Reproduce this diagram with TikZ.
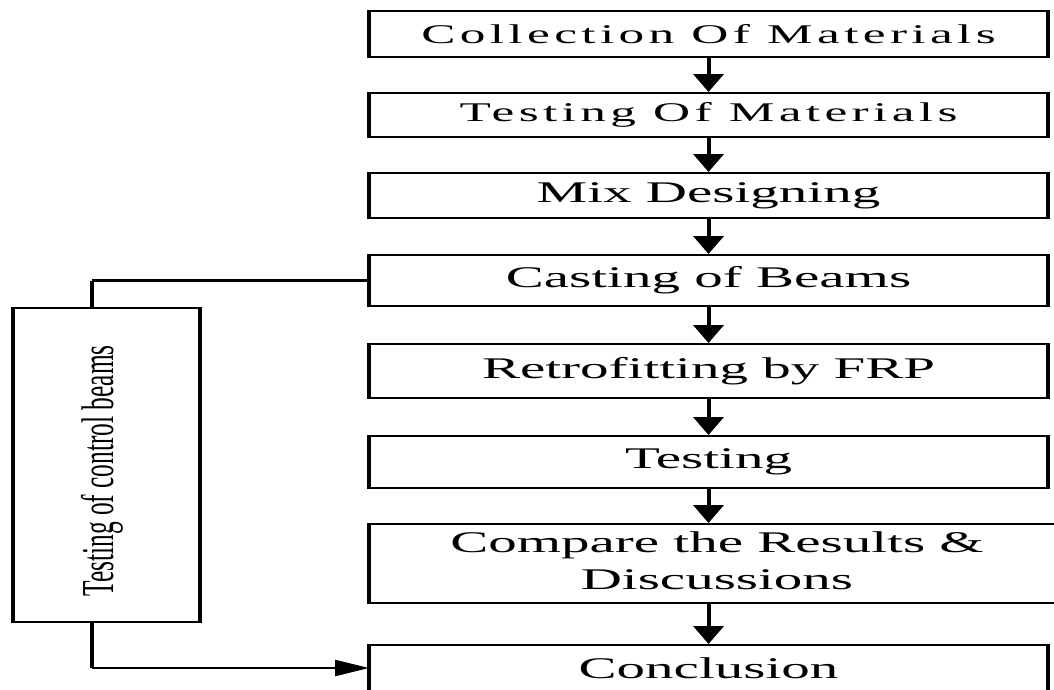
\documentclass[tikz,border=0pt]{standalone}
\usepackage{fontspec}
\setmainfont{Liberation Serif}
\newfontfamily\spacedfont[LetterSpace=8.5]{Liberation Serif}
\usetikzlibrary{arrows.meta}
\newcommand\wide[1]{\scalebox{1.9}[1]{#1}}
\begin{document}
\begin{tikzpicture}[x=1pt,y=-1pt,
  box/.style={draw, line width=2pt, rectangle, minimum width=677, inner sep=0pt, font=\fontsize{30}{36.5}\selectfont},
  vedge/.style={line width=4pt},
  flow/.style={line width=4pt, -{Triangle[width=30pt,length=18pt]}},
  link/.style={line width=2.5pt},
  sidearrow/.style={-{Triangle[width=16pt,length=34pt]}},
]
\useasboundingbox (0,0) rectangle (1054,689);
\clip (0,0) rectangle (1054,689);
\node[box, minimum height=46] (b1) at (708.5,34) {\spacedfont\fontsize{27}{30}\selectfont\wide{Collection Of Materials}};
\node[box, minimum height=44] (b2) at (708.5,115) {\spacedfont\fontsize{27}{30}\selectfont\wide{Testing Of Materials}};
\node[box, minimum height=45] (b3) at (708.5,195.5) {\wide{Mix Designing}};
\node[box, minimum height=51] (b4) at (708.5,280.5) {\wide{Casting of Beams}};
\node[box, minimum height=54] (b5) at (708.5,371) {\wide{Retrofitting by FRP}};
\node[box, minimum height=52] (b6) at (708.5,462) {\wide{Testing}};
\node[box, minimum height=79, minimum width=694] (b7) at (717,563.5) {\wide{\begin{tabular}{@{}c@{}}Compare the Results \&\\Discussions\end{tabular}}};
\node[box, minimum height=46] (b8) at (708.5,668) {\wide{Conclusion}};
\node[box, minimum height=314, minimum width=185] (lb) at (106.5,465) {};
\node (lbt) at (102,471) {\rotatebox{90}{\scalebox{1}[1.8]{\fontsize{25.4}{28}\selectfont Testing of control beams}}};
\foreach \n in {b1,b2,b3,b4,b5,b6,b7,b8,lb}
  \draw[vedge] (\n.north west) -- (\n.south west) (\n.north east) -- (\n.south east);
\draw[flow] (b1.south) -- (b2.north);
\draw[flow] (b2.south) -- (b3.north);
\draw[flow] (b3.south) -- (b4.north);
\draw[flow] (b4.south) -- (b5.north);
\draw[flow] (b5.south) -- (b6.north);
\draw[flow] (b6.south) -- (b7.north -| b6.south);
\draw[flow] (b7.south -| b6.south) -- (b8.north);
\coordinate (lt) at ([xshift=-14.5pt]lb.north);
\coordinate (lbb) at ([xshift=-14.5pt]lb.south);
\draw[link] (b4.west) -- (b4.west -| lt);
\draw[vedge] (b4.west -| lt) -- (lt);
\draw[vedge] (lbb) -- (lbb |- b8.west);
\draw[link, sidearrow] (lbb |- b8.west) -- (b8.west);
\end{tikzpicture}
\end{document}
